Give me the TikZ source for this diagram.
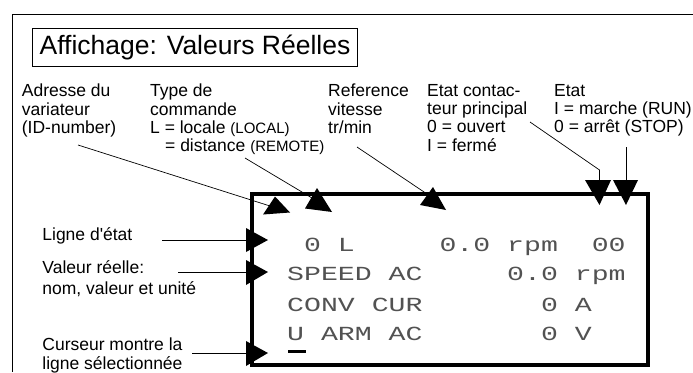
\documentclass[tikz,border=0pt]{standalone}
\usepackage{fontspec}
\setmainfont{Liberation Sans}
\newfontfamily\plainsans{Liberation Sans}
\newfontfamily\lcdfont[FakeStretch=1.41]{Liberation Mono}
\begin{document}
\begin{tikzpicture}[x=1pt,y=-1pt,
  lbl/.style={anchor=north west, inner sep=0pt, align=left, font=\fontsize{17.5}{18.3}\selectfont},
  lcd/.style={anchor=base west, inner sep=0pt, text=black!68, font=\lcdfont\fontsize{20}{20}\selectfont},
  conn/.style={line width=0.7pt},
  head/.style={fill=black},
  frame/.style={line width=0.8pt}]
\useasboundingbox (0,0) rectangle (693,372);
% outer frame
\draw[frame] (693,14) -- (12.5,14) -- (12.5,372);
% title
\node[draw, frame, minimum width=324.6pt, minimum height=38.4pt, inner sep=0pt,
      font=\fontsize{26.5}{30}\selectfont] (title) at (195,47.5) {Affichage: Valeurs R\'eelles};
% top labels
\node[lbl] (adr) at (21.7,83.9) {Adresse du\\variateur\\(ID-number)};
\node[lbl] (typ) at (150,83.9) {Type de\\commande\\L = locale {\fontsize{15}{18.3}\selectfont (LOCAL)}\\\hspace*{15pt}= distance {\fontsize{15}{18.3}\selectfont (REMOTE)}};
\node[lbl] (ref) at (328,83.9) {Reference\\vitesse\\tr/min};
\node[lbl] (cont) at (427,83.9) {Etat contac-\\teur principal\\0 = ouvert\\I = ferm\'e};
\node[lbl] (etat) at (554,83.9) {Etat\\I = marche (RUN)\\0 = arr\^et (STOP)};
% left labels
\node[lbl] (ligne) at (42.2,227.2) {Ligne d{\plainsans'}\'etat};
\node[lbl, font=\fontsize{17.5}{20.7}\selectfont] (valeur) at (42.2,260.7) {Valeur r\'eelle:\\nom, valeur et unit\'e};
\node[lbl, font=\fontsize{17.5}{19.3}\selectfont] (curseur) at (42.2,337.4) {Curseur montre la\\ligne s\'electionn\'ee};
% display
\draw[line width=3.6pt] (252,194) rectangle (648,365);
\node[lcd] (r1) at (287,251.7) {~0~L~~~~~0.0~rpm~~00};
\node[lcd] (r2) at (287,280.7) {SPEED~AC~~~~~0.0~rpm};
\node[lcd] (r3) at (287,311) {CONV~CUR~~~~~~~0~A};
\node[lcd] (r4) at (287,340) {U~ARM~AC~~~~~~~0~V};
\fill (288,350) rectangle (306,353);
% connector start points
\coordinate (s1) at (78,145);
\coordinate (s2) at (245,158);
\coordinate (s3) at (357,147);
\coordinate (s4) at (530,122);
\coordinate (k4) at (599.5,170);
\coordinate (s5) at (626,147);
\coordinate (s6) at (162,240);
\coordinate (s7) at (178,272);
\coordinate (s8) at (192,353);
% arrow heads
\coordinate (t1a) at (275,196.5); \coordinate (t1b) at (263,214.5); \coordinate (t1c) at (290,212.5);
\coordinate (t2a) at (317,188);   \coordinate (t2b) at (305,208.5); \coordinate (t2c) at (332,212);
\coordinate (t3a) at (433,187);   \coordinate (t3b) at (420,205);   \coordinate (t3c) at (446,210);
\coordinate (t4a) at (585,180);   \coordinate (t4b) at (611,180);   \coordinate (t4c) at (599.5,205);
\coordinate (t5a) at (613,180);   \coordinate (t5b) at (638,180);   \coordinate (t5c) at (626,205);
\coordinate (t6a) at (246,228);   \coordinate (t6b) at (246,252);   \coordinate (t6c) at (268,240);
\coordinate (t7a) at (246,260);   \coordinate (t7b) at (246,285);   \coordinate (t7c) at (268,272);
\coordinate (t8a) at (246,341);   \coordinate (t8b) at (246,366);   \coordinate (t8c) at (268,353);
\coordinate (e1) at (270,206);
\coordinate (e2) at (312,198);
\coordinate (e3) at (430,196);
\coordinate (e4) at (599.5,182);
\coordinate (e5) at (626,182);
\coordinate (e6) at (250,240);
\coordinate (e7) at (250,272);
\coordinate (e8) at (250,353);
% connectors
\draw[conn] (s1) -- (e1);
\draw[conn] (s2) -- (e2);
\draw[conn] (s3) -- (e3);
\draw[conn] (s4) -- (k4) -- (e4);
\draw[conn] (s5) -- (e5);
\draw[conn] (s6) -- (e6);
\draw[conn] (s7) -- (e7);
\draw[conn] (s8) -- (e8);
\foreach \t in {t1,t2,t3,t4,t5,t6,t7,t8}
  \fill[head] (\t a) -- (\t b) -- (\t c) -- cycle;
\end{tikzpicture}
\end{document}
